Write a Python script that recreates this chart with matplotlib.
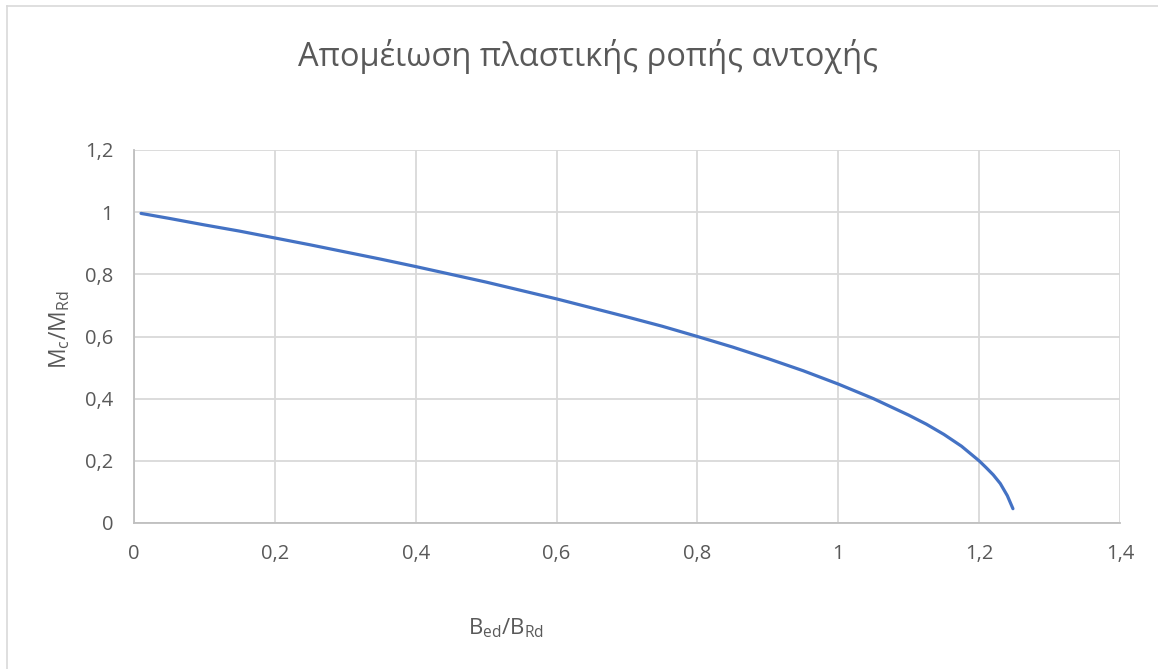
import numpy as np
import matplotlib.pyplot as plt
from matplotlib.lines import Line2D

plt.rcParams['font.family'] = ['Open Sans', 'DejaVu Sans']
plt.rcParams['mathtext.default'] = 'regular'

# values
ratio_b = [0.01, 0.05, 0.10, 0.15, 0.20, 0.25, 0.30, 0.35, 0.40, 0.45, 0.50,
           0.55, 0.60, 0.65, 0.70, 0.75, 0.80, 0.85, 0.90, 0.95, 1.00, 1.05,
           1.10, 1.125, 1.15, 1.175, 1.20, 1.21, 1.22, 1.23, 1.24, 1.248]
ratio_m = [0.996, 0.980, 0.959, 0.939, 0.917, 0.895, 0.872, 0.849, 0.825, 0.800,
           0.775, 0.748, 0.721, 0.692, 0.663, 0.633, 0.600, 0.566, 0.529, 0.490,
           0.447, 0.400, 0.347, 0.318, 0.285, 0.247, 0.200, 0.178, 0.155, 0.127,
           0.088, 0.046]

x_ticks = [0, 0.2, 0.4, 0.6, 0.8, 1.0, 1.2, 1.4]
x_labels = ['0', '0,2', '0,4', '0,6', '0,8', '1', '1,2', '1,4']
y_ticks = [0, 0.2, 0.4, 0.6, 0.8, 1.0, 1.2]
y_labels = ['0', '0,2', '0,4', '0,6', '0,8', '1', '1,2']

title = 'Απομέιωση πλαστικής ροπής αντοχής'
txt = '#595959'
W, H = 1158, 669

fig = plt.figure(figsize=(W / 100, H / 100), dpi=100)
ax = fig.add_axes([134 / W, 1 - 523 / H, (1120 - 134) / W, (523 - 150) / H])

ax.plot(ratio_b, ratio_m, color='#4472C4', lw=2.3, solid_capstyle='round',
        solid_joinstyle='round')

ax.set_xlim(0, 1.4)
ax.set_ylim(0, 1.2)
ax.set_xticks(x_ticks)
ax.set_xticklabels(x_labels)
ax.set_yticks(y_ticks)
ax.set_yticklabels(y_labels)
ax.tick_params(length=0, labelsize=14.5, labelcolor=txt, pad=15)
ax.grid(True, color='#D9D9D9', lw=1.3)
ax.set_axisbelow(True)
for s in ['top', 'right']:
    ax.spines[s].set_visible(False)
for s in ['left', 'bottom']:
    ax.spines[s].set_color('#BFBFBF')
    ax.spines[s].set_linewidth(1.3)

fig.text(588 / W, 1 - 56 / H, title, ha='center', va='center', fontsize=23.5, color=txt)
fig.text(506 / W, 1 - 628 / H, r'$B_{ed}/B_{Rd}$', ha='center', va='center',
         fontsize=16, color=txt)
fig.text(60 / W, 1 - 330 / H, r'$M_{c}/M_{Rd}$', ha='center', va='center',
         fontsize=16.5, color=txt, rotation=90)

# chart-area border (cropped on right and bottom)
fig.add_artist(Line2D([7.5 / W, 1], [1 - 5.5 / H, 1 - 5.5 / H], color='#D9D9D9', lw=1.2))
fig.add_artist(Line2D([7.5 / W, 7.5 / W], [0, 1 - 5.5 / H], color='#D9D9D9', lw=1.2))

fig.savefig('out.png', dpi=100)
